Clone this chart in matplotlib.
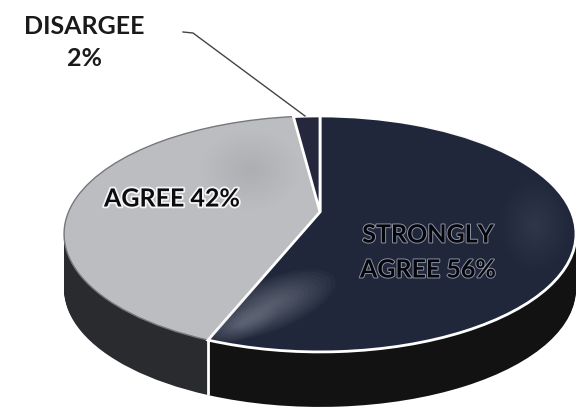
#!/usr/bin/env python3
import numpy as np
import matplotlib
matplotlib.use("Agg")
import matplotlib.pyplot as plt
import matplotlib.patheffects as pe
from matplotlib.patches import Ellipse
from matplotlib.transforms import Transform

labels = ["STRONGLY\nAGREE 56%", "AGREE 42%", "DISARGEE\n2%"]
values = [56, 42, 2]
top_colors = ["#20273a", "#bcbdc0", "#25283c"]
side_colors = ["#121213", "#2a2b2f", "#121213"]

W, H = 582, 409
DEPTH = 55


class Persp(Transform):
    # unit circle -> tilted disc in pixel coordinates
    input_dims = 2
    output_dims = 2
    is_separable = False
    has_inverse = False

    def __init__(self, drop=0.0):
        super().__init__()
        self.drop = drop

    def transform_non_affine(self, values):
        xy = np.asarray(values, dtype=float)
        w = 1 + 0.186 * xy[:, 1]
        px = 320 + 251.5 * xy[:, 0] / w
        py = 212 - 113.9 * xy[:, 1] / w + self.drop
        return np.column_stack([px, py])


fig = plt.figure(figsize=(W / 100, H / 100), dpi=100)
ax = fig.add_axes([0, 0, 1, 1])


def draw_disc(drop, colors, edge=None, lw=0.0, zorder=1):
    wedges, _ = ax.pie(values, colors=colors, startangle=90, counterclock=False,
                       wedgeprops={"linewidth": lw, "edgecolor": edge or "none"})
    for w in wedges:
        w.set_transform(Persp(drop) + ax.transData)
        w.set_zorder(zorder)
    return wedges


def soft_patch(cx, cy, rx, ry, angle, color, strength, clip):
    # nested ellipses fade out towards the border
    for f in np.linspace(1, 0.1, 14):
        e = Ellipse((cx, cy), rx * 2 * f, ry * 2 * f, angle=angle, facecolor=color,
                    edgecolor="none", alpha=strength / 14, zorder=5)
        ax.add_patch(e)
        e.set_clip_path(clip)


# side of the disc
for d in range(DEPTH, 0, -1):
    draw_disc(d, side_colors)

# top face
top = draw_disc(0, top_colors, edge="white", lw=2.0, zorder=3)
top[1].set_edgecolor("#77787c")
top[1].set_linewidth(1.0)
top[1].set_zorder(2)

# seam on the side where the two big slices meet
ang = np.deg2rad(top[0].theta1)
rim = Persp().transform_non_affine(np.array([[np.cos(ang), np.sin(ang)]]))[0]
ax.plot([rim[0], rim[0]], [rim[1], rim[1] + DEPTH], color="white", lw=2, zorder=4,
        solid_capstyle="butt")

# worn print on the slices
soft_patch(270, 305, 70, 26, -22, "#c8ccd6", 0.42, top[0])
soft_patch(240, 325, 40, 15, -20, "#c8ccd6", 0.25, top[0])
soft_patch(535, 225, 35, 45, 0, "#c8ccd6", 0.12, top[0])
soft_patch(420, 145, 95, 25, 0, "#aab0c4", 0.08, top[0])
soft_patch(200, 245, 80, 50, 0, "#f0f0f2", 0.18, top[1])
soft_patch(250, 170, 50, 40, 0, "#8e8f94", 0.14, top[1])

# leader line
ax.plot([183, 193, 305], [32, 33, 116], color="#444444", lw=1.0, zorder=6)

font = {"family": "Lato", "fontweight": "bold", "ha": "center", "va": "center", "zorder": 7}
ax.text(84, 27, "DISARGEE", fontsize=18, color="#1a1a1a", **font)
ax.text(84, 59, "2%", fontsize=18, color="#1a1a1a", **font)
glow_w = [pe.withStroke(linewidth=2.6, foreground="#f4f4f4")]
glow_g = [pe.withStroke(linewidth=1.4, foreground="#8d92a3")]
ax.text(172, 199, labels[1], fontsize=18, color="#0c0c10", path_effects=glow_w, **font)
ax.text(428, 235, "STRONGLY", fontsize=18, color="#05060c", path_effects=glow_g, **font)
ax.text(428, 270, "AGREE 56%", fontsize=18, color="#05060c", path_effects=glow_g, **font)

ax.set_aspect("auto")
ax.set_xlim(0, W)
ax.set_ylim(H, 0)
ax.axis("off")

fig.savefig("out.png", dpi=100, facecolor="white")
